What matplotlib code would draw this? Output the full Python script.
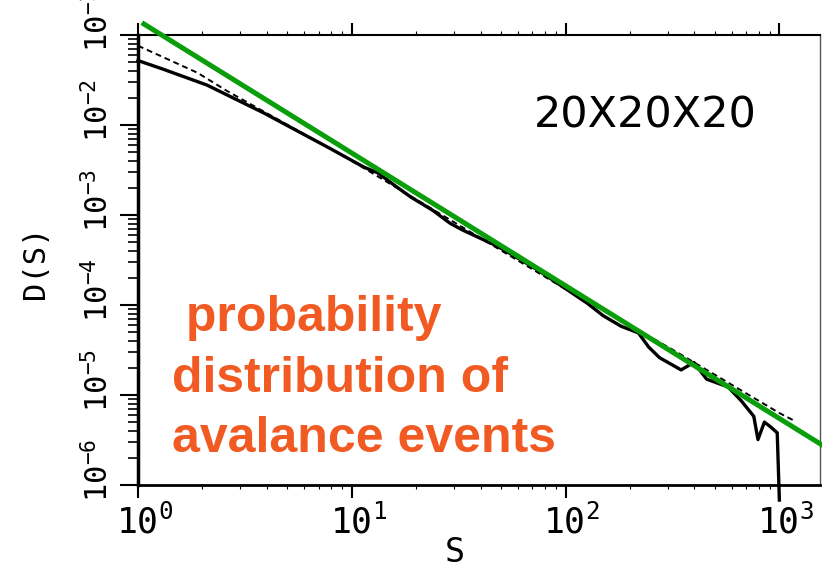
import numpy as np
import matplotlib.pyplot as plt

# measured avalanche size distribution (solid curve)
s_solid = [1.0, 1.3, 2.1, 3.9, 6.0, 7.9, 11.4, 13.2, 16.0, 18.9, 24.0, 28.8, 33.0,
           40.0, 48.0, 62.0, 74.0, 95.0, 126.0, 150.0, 182.0, 219.0, 245.0, 275.0,
           347.0, 398.0, 457.0, 575.0, 661.0, 759.0, 794.0, 851.0, 912.0, 977.0, 1000.0]
d_solid = [0.052, 0.042, 0.0278, 0.0135, 0.0078, 0.0055, 0.0034, 0.00295, 0.0021,
           0.00158, 0.00112, 0.00081, 0.00068, 0.00055, 0.00045, 0.000316, 0.000245,
           0.000165, 1.05e-4, 7.6e-5, 5.8e-5, 4.9e-5, 3.4e-5, 2.6e-5,
           1.9e-5, 2.3e-5, 1.5e-5, 1.23e-5, 8.7e-6, 5.8e-6, 3.2e-6, 5.0e-6, 4.4e-6,
           3.8e-6, 6.8e-7]

# dashed curve (other lattice / fit)
s_dash = [1.0, 1.9, 2.6, 10.0, 100.0, 316.0, 1000.0, 1170.0]
d_dash = [0.076, 0.038, 0.024, 0.0040, 1.5e-4, 3.2e-5, 6.3e-6, 5.2e-6]

# green power-law guide line
s_fit = [1.066, 1585.0]
d_fit = [0.1325, 2.78e-6]

x_ticks = [1, 10, 100, 1000]
x_tick_labels = ["10$^{0}$", "10$^{1}$", "10$^{2}$", "10$^{3}$"]
y_ticks = [1e-1, 1e-2, 1e-3, 1e-4, 1e-5, 1e-6]
y_tick_labels = ["10$^{-1}$", "10$^{-2}$", "10$^{-3}$", "10$^{-4}$", "10$^{-5}$", "10$^{-6}$"]

plt.rcParams['mathtext.fontset'] = 'custom'
plt.rcParams['mathtext.rm'] = 'DejaVu Sans Mono'
plt.rcParams['mathtext.it'] = 'DejaVu Sans Mono'

fig = plt.figure(figsize=(8.22, 5.69), dpi=100)
ax = fig.add_axes([138 / 822, 1 - 485 / 569, (820 - 138) / 822, (485 - 35) / 569])
ax.set_xscale('log')
ax.set_yscale('log')
ax.set_xlim(1, 10 ** 3.19)
ax.set_ylim(1e-6, 1e-1)

ax.plot(s_dash, d_dash, color='black', lw=1.4, ls=(0, (3, 2)))
ax.plot(s_solid, d_solid, color='black', lw=2.4, clip_on=False)
ax.plot(s_fit, d_fit, color='#0a9e0a', lw=3.6, clip_on=False, zorder=5)

ax.spines['left'].set_linewidth(2.5)
ax.spines['bottom'].set_linewidth(2.0)
ax.spines['top'].set_linewidth(1.5)
ax.spines['right'].set_linewidth(1.0)
ax.spines['right'].set_color('#555555')

ax.tick_params(axis='y', which='major', direction='out', length=13, width=1.5)
ax.tick_params(axis='y', which='minor', direction='out', length=7, width=1.2)
ax.tick_params(axis='x', which='major', direction='out', length=9, width=1.5)
ax.tick_params(axis='x', which='minor', direction='out', length=5, width=1.2)
ax.tick_params(axis='x', which='both', top=True)
ax.tick_params(axis='x', which='minor', top=True, length=3, width=0.8)
ax.set_xticks(x_ticks)
ax.set_yticks(y_ticks)
ax.set_xticklabels([])
ax.set_yticklabels([])

mono = 'DejaVu Sans Mono'
for xv, lab in zip(x_ticks, x_tick_labels):
    ax.annotate(lab, xy=(xv, 0), xycoords=('data', 'axes fraction'),
                xytext=(-16, -35), textcoords='offset points',
                ha='left', va='baseline', fontsize=25, family=mono,
                annotation_clip=False)
for yv, lab in zip(y_ticks, y_tick_labels):
    ax.annotate(lab, xy=(0, yv), xycoords=('axes fraction', 'data'),
                xytext=(-21.6, -12), textcoords='offset points',
                ha='left', va='baseline', rotation=90, rotation_mode='anchor',
                fontsize=22, family=mono, annotation_clip=False)

fig.text(455 / 822, 1 - 553 / 569, "S", ha='center', va='center',
         fontsize=24, family=mono)
fig.text(35 / 822, 1 - 262 / 569, "D(S)", ha='center', va='center',
         rotation=90, fontsize=22, family=mono)

ax.text(0.58, 0.82, "20X20X20", transform=ax.transAxes, fontsize=31,
        family='DejaVu Sans', va='center', ha='left')

fig.text(172 / 822, 1 - 452 / 569, " probability\ndistribution of\navalance events",
         ha='left', va='baseline', fontsize=36, fontweight='bold',
         family='Liberation Sans', color='#f15a22', linespacing=1.4)

fig.savefig('out.png', dpi=100)
